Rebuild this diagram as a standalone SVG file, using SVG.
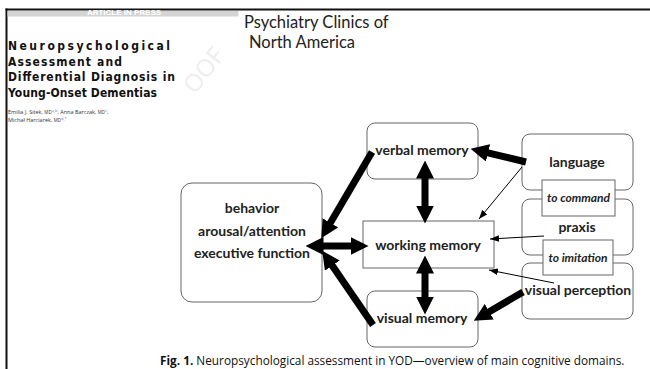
<svg xmlns="http://www.w3.org/2000/svg" width="650" height="369" viewBox="0 0 650 369">
<style>
.box{fill:#fff;stroke:#666;stroke-width:1}
.lbl{font-family:Lato,"Open Sans",sans-serif;font-weight:bold;font-size:14px;fill:#222;text-anchor:middle}
.sub{font-family:Lato,"Open Sans",sans-serif;font-weight:bold;font-style:italic;font-size:12px;fill:#222;text-anchor:middle}
.thick{stroke:#000;stroke-width:7;fill:none}
.thin{stroke:#000;stroke-width:1;fill:none}
.title{font-family:"DejaVu Sans Condensed","DejaVu Sans",sans-serif;font-stretch:condensed;font-weight:bold;font-size:12px;fill:#111}
.auth{font-family:"Open Sans",sans-serif;font-size:5.5px;fill:#333}
.sup{font-size:4px;fill:#4a7fc0}
.journal{font-family:Lato,"Open Sans",sans-serif;font-size:16.5px;fill:#222}
.cap{font-family:"Open Sans",sans-serif;font-size:11.8px;fill:#111}
</style>
<defs>
<marker id="hd" markerUnits="userSpaceOnUse" markerWidth="18" markerHeight="18" viewBox="0 0 16 16" refX="4" refY="8" orient="auto-start-reverse">
<path d="M0,0 L16,8 L0,16 z" fill="#000"/>
</marker>
<marker id="th" markerUnits="userSpaceOnUse" markerWidth="9" markerHeight="7" viewBox="0 0 8 6" refX="8" refY="3" orient="auto">
<path d="M0,0 L8,3 L0,6 z" fill="#000"/>
</marker>
</defs>
<rect width="650" height="369" fill="#fff"/>
<g id="page-frame">
<rect x="5.5" y="8.5" width="645" height="2" fill="#111"/>
<rect x="5.5" y="8.5" width="2" height="361" fill="#111"/>
<rect x="7.5" y="11" width="231" height="5.5" fill="#d4d4d4"/>
<text x="124" y="15" font-family="Liberation Sans,sans-serif" font-size="8" font-weight="bold" fill="#fff" text-anchor="middle">ARTICLE IN PRESS</text>
</g>
<text x="195" y="95" font-family="Open Sans,sans-serif" font-size="24" fill="#eeeeee" transform="rotate(-52 195 95)">OOF</text>
<g id="article-title">
<text class="title" x="8" y="50" textLength="162" lengthAdjust="spacing">Neuropsychological</text>
<text class="title" x="8" y="65.5" textLength="114" lengthAdjust="spacing">Assessment and</text>
<text class="title" x="8" y="81" textLength="167" lengthAdjust="spacing">Differential Diagnosis in</text>
<text class="title" x="8" y="96.5" textLength="149" lengthAdjust="spacing">Young-Onset Dementias</text>
<text class="auth" x="8" y="114">Emilia J. Sitek, <tspan font-size="4.5">MD</tspan><tspan class="sup" dy="-2">a,b</tspan><tspan dy="2">, Anna Barczak, </tspan><tspan font-size="4.5">MD</tspan><tspan class="sup" dy="-2">c</tspan><tspan dy="2">,</tspan></text>
<text class="auth" x="8" y="122">Michał Harciarek, <tspan font-size="4.5">MD</tspan><tspan class="sup" dy="-2">d,*</tspan></text>
</g>
<g id="journal">
<text class="journal" x="244" y="28">Psychiatry Clinics of</text>
<text class="journal" x="249" y="48">North America</text>
</g>
<g id="behavior">
<rect class="box" x="181" y="183" width="141" height="119" rx="11"/>
<text class="lbl" x="252" y="213">behavior</text>
<text class="lbl" x="252" y="236">arousal/attention</text>
<text class="lbl" x="252" y="258">executive function</text>
</g>
<g id="verbal-memory">
<rect class="box" x="367" y="123" width="111" height="56" rx="8"/>
<text class="lbl" x="422" y="155">verbal memory</text>
</g>
<g id="working-memory">
<rect class="box" x="363" y="221" width="131" height="47"/>
<text class="lbl" x="428" y="250">working memory</text>
</g>
<g id="visual-memory">
<rect class="box" x="367" y="291" width="111" height="56" rx="8"/>
<text class="lbl" x="422" y="323">visual memory</text>
</g>
<g id="language">
<rect class="box" x="522" y="134" width="111" height="56" rx="8"/>
<text class="lbl" x="577" y="167">language</text>
</g>
<g id="praxis">
<rect class="box" x="522" y="199" width="111" height="56" rx="8"/>
<text class="lbl" x="577" y="232">praxis</text>
</g>
<g id="visual-perception">
<rect class="box" x="522" y="263" width="111" height="56" rx="8"/>
<text class="lbl" x="578" y="295">visual perception</text>
</g>
<g id="to-command">
<rect class="box" x="542" y="180" width="73" height="36"/>
<text class="sub" x="578.5" y="202">to command</text>
</g>
<g id="to-imitation">
<rect class="box" x="543" y="240" width="70" height="35"/>
<text class="sub" x="578" y="262">to imitation</text>
</g>
<g id="connectors">
<line class="thick" x1="526" y1="162" x2="483.7" y2="151.8" marker-end="url(#hd)"/>
<line class="thick" x1="523" y1="292" x2="485.4" y2="314" marker-end="url(#hd)"/>
<line class="thick" x1="372" y1="152" x2="328.1" y2="226.7" marker-end="url(#hd)"/>
<line class="thick" x1="373" y1="325" x2="329.8" y2="261.9" marker-end="url(#hd)"/>
<line class="thick" x1="319" y1="246" x2="355" y2="246" marker-start="url(#hd)" marker-end="url(#hd)"/>
<line class="thick" x1="425" y1="174" x2="425" y2="210" marker-start="url(#hd)" marker-end="url(#hd)"/>
<line class="thick" x1="425" y1="269" x2="425" y2="301" marker-start="url(#hd)" marker-end="url(#hd)"/>
<line class="thin" x1="522" y1="167" x2="479" y2="219" marker-end="url(#th)"/>
<line class="thin" x1="544" y1="236" x2="490" y2="239" marker-end="url(#th)"/>
<line class="thin" x1="554" y1="283" x2="489" y2="270" marker-end="url(#th)"/>
</g>
<text class="cap" x="160" y="365"><tspan font-weight="bold">Fig. 1.</tspan> Neuropsychological assessment in YOD—overview of main cognitive domains.</text>
</svg>
